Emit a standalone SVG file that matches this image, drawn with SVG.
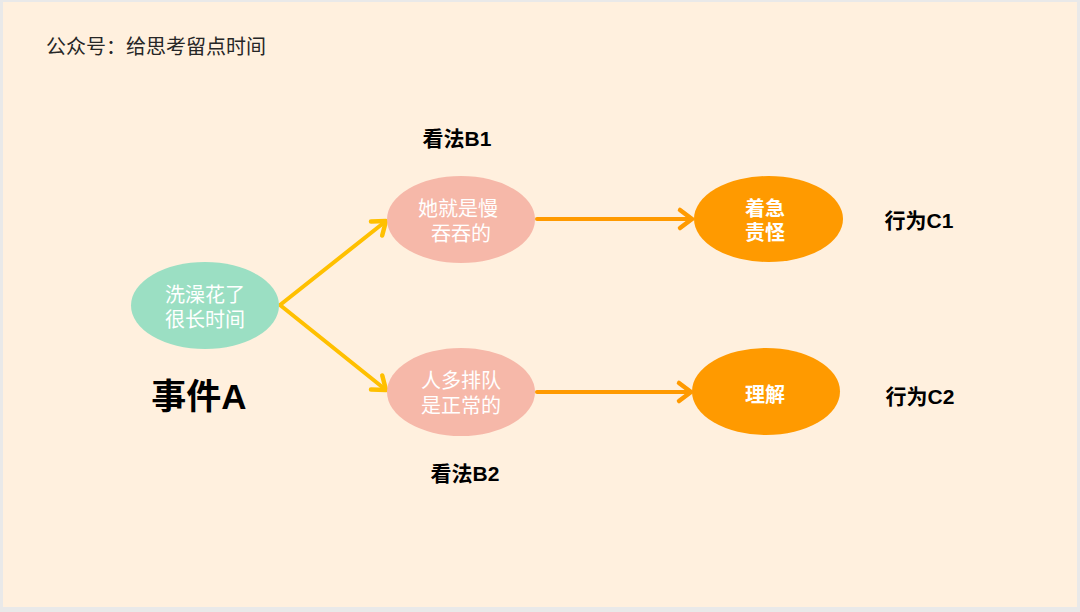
<svg xmlns="http://www.w3.org/2000/svg" width="1080" height="612" viewBox="0 0 1080 612">
  <style>
    .cjk { font-family: "Liberation Sans", "Noto Sans CJK SC", sans-serif; }
    .title { font-size: 20px; fill: #262626; }
    .lbl { font-size: 21px; font-weight: bold; fill: #000; text-anchor: middle; }
    .big { font-size: 35px; font-weight: bold; fill: #000; text-anchor: middle; }
    .ntxt { font-size: 20px; fill: #fff; text-anchor: middle; }
    .btxt { font-size: 20px; font-weight: bold; fill: #fff; text-anchor: middle; }
    .green { fill: #9bdfc3; }
    .pink { fill: #f6b8a9; }
    .orange { fill: #ff9a00; }
    .ya { stroke: #ffc000; stroke-width: 4; fill: none; stroke-linecap: round; stroke-linejoin: round; }
    .oa { stroke: #ff9a00; stroke-width: 4; fill: none; stroke-linecap: round; stroke-linejoin: round; }
  </style>
  <defs>
    <marker id="ahY" markerUnits="userSpaceOnUse" markerWidth="30" markerHeight="30" viewBox="-15 -15 30 30" refX="0" refY="0" orient="auto" overflow="visible">
      <path d="M-12,-9 L0,0 L-12,9" fill="none" stroke="#ffc000" stroke-width="4.5" stroke-linecap="round" stroke-linejoin="round"/>
    </marker>
    <marker id="ahO" markerUnits="userSpaceOnUse" markerWidth="30" markerHeight="30" viewBox="-15 -15 30 30" refX="0" refY="0" orient="auto" overflow="visible">
      <path d="M-12,-9 L0,0 L-12,9" fill="none" stroke="#ff9a00" stroke-width="4.5" stroke-linecap="round" stroke-linejoin="round"/>
    </marker>
  </defs>
  <rect x="0" y="0" width="1080" height="612" fill="#e9e9e9"/>
  <rect x="3" y="2" width="1074" height="605" fill="#fff0de"/>

  <text class="cjk title" x="46" y="54">公众号：给思考留点时间</text>

  <g id="connectors">
    <line class="ya" x1="280" y1="305" x2="386" y2="221" marker-end="url(#ahY)"/>
    <line class="ya" x1="280" y1="305" x2="386" y2="390" marker-end="url(#ahY)"/>
    <line class="oa" x1="537" y1="219" x2="692" y2="219" marker-end="url(#ahO)"/>
    <line class="oa" x1="537" y1="392" x2="691" y2="392" marker-end="url(#ahO)"/>
  </g>

  <g id="eventA">
    <ellipse class="green" cx="205" cy="305.5" rx="74" ry="43.5"/>
    <text class="cjk ntxt" x="205" y="302">洗澡花了</text>
    <text class="cjk ntxt" x="205" y="327">很长时间</text>
  </g>
  <text id="label-eventA" class="cjk big" x="199" y="409">事件A</text>

  <g id="viewB1">
    <ellipse class="pink" cx="461" cy="219.5" rx="74" ry="43.5"/>
    <text class="cjk ntxt" x="458" y="216">她就是慢</text>
    <text class="cjk ntxt" x="461" y="241">吞吞的</text>
  </g>
  <text id="label-B1" class="cjk lbl" x="457" y="146">看法B1</text>

  <g id="viewB2">
    <ellipse class="pink" cx="461" cy="392" rx="74" ry="44"/>
    <text class="cjk ntxt" x="461" y="388">人多排队</text>
    <text class="cjk ntxt" x="461" y="413">是正常的</text>
  </g>
  <text id="label-B2" class="cjk lbl" x="465" y="481">看法B2</text>

  <g id="actionC1">
    <ellipse class="orange" cx="768.5" cy="219" rx="74.5" ry="43"/>
    <text class="cjk btxt" x="765" y="216">着急</text>
    <text class="cjk btxt" x="765" y="240">责怪</text>
  </g>
  <text id="label-C1" class="cjk lbl" x="919" y="228">行为C1</text>

  <g id="actionC2">
    <ellipse class="orange" cx="766" cy="391.5" rx="74" ry="43.5"/>
    <text class="cjk btxt" x="765" y="402">理解</text>
  </g>
  <text id="label-C2" class="cjk lbl" x="920" y="404">行为C2</text>
</svg>
